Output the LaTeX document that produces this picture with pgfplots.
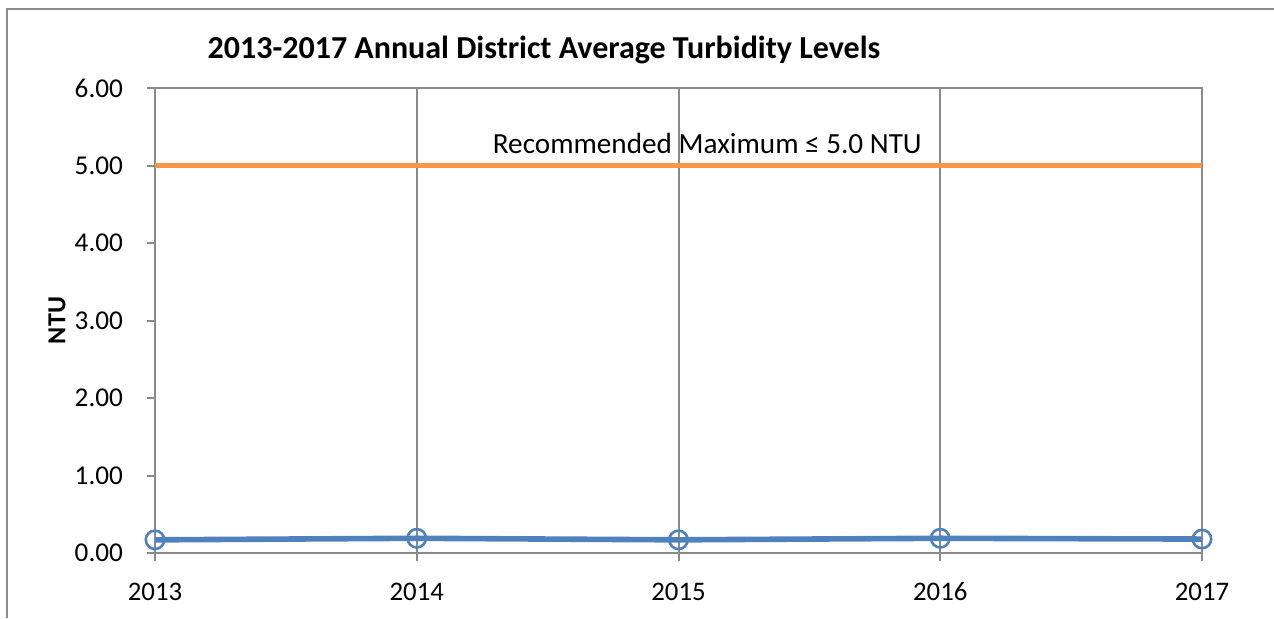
\documentclass[border=0pt]{standalone}
\usepackage{fontspec}
\setmainfont{Carlito}
\usepackage{pgfplots}
\pgfplotsset{compat=1.18}
\definecolor{lineblue}{HTML}{4F81BD}
\definecolor{limitorange}{HTML}{F79646}
\definecolor{gridgray}{HTML}{8A8A8A}
\definecolor{framegray}{HTML}{8C8C8C}

\begin{document}
\begin{tikzpicture}
% 1 px of the reference = 0.5pt
\useasboundingbox (0,0) rectangle (637pt,-309pt);
\draw[framegray, line width=1.2pt] (3.6pt,-309pt) -- (3.6pt,-4.6pt) -- (637pt,-4.6pt);
\begin{axis}[
    at={(77.5pt,-276.5pt)}, anchor=south west,
    scale only axis,
    width=523.5pt, height=232.5pt,
    xmin=2013, xmax=2017,
    ymin=0, ymax=6,
    xtick={2013,2014,2015,2016,2017},
    ytick={0,1,2,3,4,5,6},
    /pgf/number format/assume math mode=true,
    x tick label style={/pgf/number format/1000 sep={}, font=\fontsize{13.4}{15}\selectfont,
        anchor=north, text height=9pt, text depth=0pt, yshift=-7pt},
    y tick label style={/pgf/number format/.cd, fixed, fixed zerofill, precision=2, /tikz/.cd, font=\fontsize{13.6}{15}\selectfont, xshift=-8.5pt},
    tick align=outside,
    major tick length=4pt,
    xtick pos=bottom, ytick pos=left,
    xmajorgrids,
    grid style={gridgray, line width=1pt},
    axis line style={gridgray, line width=1pt},
    tick style={gridgray, line width=1pt},
    ylabel={\fontsize{13}{15}\selectfont\bfseries NTU},
    ylabel style={at={(axis description cs:-0.0936,0.5)}, anchor=center},
    title={\fontsize{16}{18}\selectfont\bfseries 2013-2017 Annual District Average Turbidity Levels},
    title style={at={(axis description cs:0.3715,1.056)}, anchor=center},
    clip=false,
]
\addplot[limitorange, line width=2.8pt] coordinates {
    (2013,5.0) (2014,5.0) (2015,5.0) (2016,5.0) (2017,5.0)
};
\addplot[lineblue, line width=2.8pt, mark=o, mark size=4.6pt, mark options={line width=1.3pt}] coordinates {
    (2013,0.17) (2014,0.19) (2015,0.17) (2016,0.19) (2017,0.18)
};
\node[font=\fontsize{14.6}{16}\selectfont, anchor=center] at (axis cs:2015.11,5.29) {Recommended Maximum ≤ 5.0 NTU};
\end{axis}
\end{tikzpicture}
\end{document}
